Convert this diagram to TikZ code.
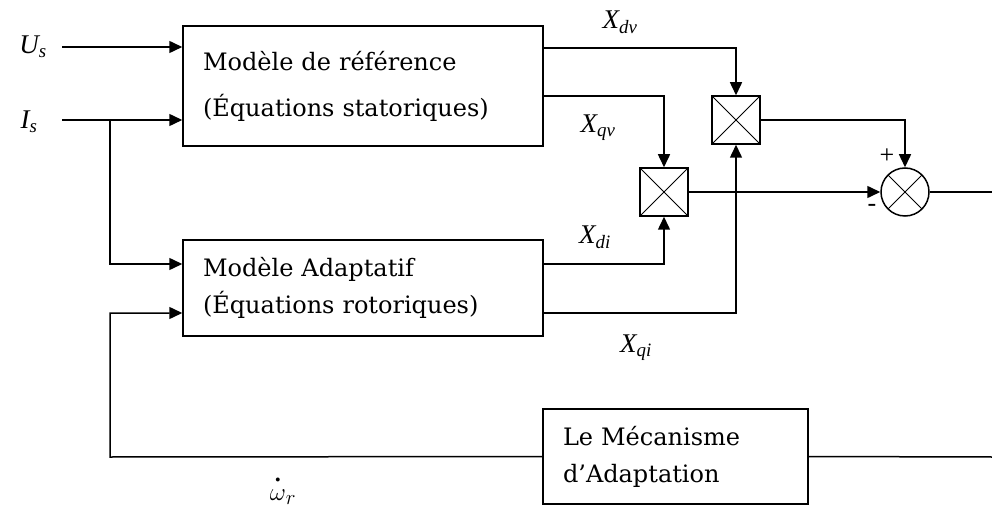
\documentclass[tikz,border=0pt]{standalone}
\usepackage{amsmath}
\usepackage{fontspec}
\setmainfont{DejaVu Serif}
\newfontfamily\labelfont{Liberation Serif}
\usetikzlibrary{arrows.meta,calc}
\tikzset{
  bloc/.style={
    draw,
    line width=1.5pt,
    align=left,
    text width=#1,
    inner sep=0pt,
    font=\fontsize{24}{37}\selectfont
  },
  mult/.style={
    draw,
    line width=1.5pt,
    minimum size=48pt,
    inner sep=0pt,
    path picture={
      \draw[line width=0.8pt] (path picture bounding box.north west) -- (path picture bounding box.south east)
        (path picture bounding box.south west) -- (path picture bounding box.north east);
    }
  },
  somme/.style={
    draw,
    circle,
    line width=1.5pt,
    minimum size=48pt,
    inner sep=0pt,
    path picture={
      \draw[line width=0.8pt] ($(path picture bounding box.center)+(-17,-17)$) -- ($(path picture bounding box.center)+(17,17)$)
        ($(path picture bounding box.center)+(-17,17)$) -- ($(path picture bounding box.center)+(17,-17)$);
    }
  },
  sig/.style={
    font=\labelfont\itshape\fontsize{27}{27}\selectfont,
    inner sep=0pt
  },
  signe/.style={
    font=\labelfont\fontsize{26}{26}\selectfont,
    inner sep=0pt
  },
  arrow/.style={
    -{Triangle[length=13pt,width=12pt]},
    line width=1.5pt
  },
  ligne/.style={
    line width=1.5pt
  }
}
\begin{document}
\begin{tikzpicture}[x=1pt,y=-1pt]
\useasboundingbox (0,0) rectangle (992,510);
% blocs
\node[bloc=320pt,minimum width=360pt,minimum height=120pt,font=\fontsize{24}{46}\selectfont] (ref) at (363,86) {Modèle de référence\\(Équations statoriques)};
\node[bloc=320pt,minimum width=360pt,minimum height=96pt] (adapt) at (363,288) {Modèle Adaptatif\\(Équations rotoriques)};
\node[bloc=225pt,minimum width=265pt,minimum height=95pt] (mech) at (675.5,456.5) {Le Mécanisme\\d’Adaptation};
\node[mult] (m1) at (664,192) {};
\node[mult] (m2) at (736,120) {};
\node[somme] (sum) at (905,192) {};
% entrees et sorties
\coordinate (in-u) at (62,47);
\coordinate (in-i) at (62,120);
\coordinate (branch) at (110,120);
\coordinate (fb) at (110,457);
\coordinate (out-s) at (992,192);
\coordinate (out-m) at (992,457);
% signaux
\node[sig] (us) at (33,47) {U\textsubscript{s}};
\node[sig] (is) at (29,122) {I\textsubscript{s}};
\node[sig] (xdv) at (620,22) {X\textsubscript{dv}};
\node[sig] (xqv) at (598,128) {X\textsubscript{qv}};
\node[sig] (xdi) at (595,237) {X\textsubscript{di}};
\node[sig] (xqi) at (636,348) {X\textsubscript{qi}};
\node[inner sep=0pt,font=\fontsize{30}{30}\selectfont] (wr) at (283,490) {$\overset{\raisebox{3pt}{.}}{\omega}_{r}$};
\node[signe] (plus) at (887,156) {+};
\node[signe] (moins) at (872,208) {-};
% connexions
\draw[arrow] (in-u) -- (ref.west |- in-u);
\draw[arrow] (in-i) -- (ref.west |- in-i);
\draw[arrow] (branch) |- ($(adapt.west)+(0,-24)$);
\draw[arrow] ($(ref.east)+(0,-38)$) -| (m2.north);
\draw[arrow] ($(ref.east)+(0,10)$) -| (m1.north);
\draw[arrow] ($(adapt.east)+(0,-24)$) -| (m1.south);
\draw[arrow] ($(adapt.east)+(0,25)$) -| (m2.south);
\draw[arrow] (m1.east) -- (sum.west);
\draw[arrow] (m2.east) -| (sum.north);
\draw[ligne] (sum.east) -- (out-s);
\draw[ligne] (mech.east) -- (out-m);
\draw[arrow] (mech.west) -- (fb) |- ($(adapt.west)+(0,25)$);
\end{tikzpicture}
\end{document}
